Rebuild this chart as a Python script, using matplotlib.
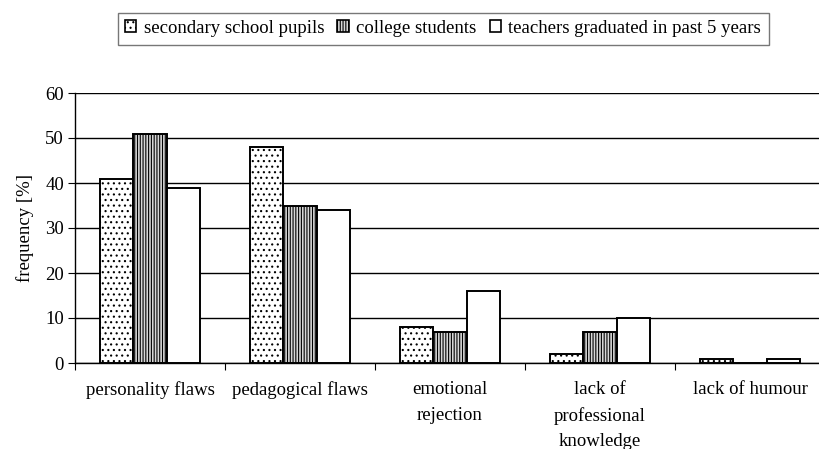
import matplotlib

matplotlib.use("Agg")
import matplotlib.pyplot as plt  # noqa: E402
import numpy as np  # noqa: E402
from matplotlib.patches import Patch  # noqa: E402

plt.rcParams["font.family"] = ["Liberation Serif", "DejaVu Serif"]
plt.rcParams["hatch.linewidth"] = 0.8

categories = [
    "personality flaws",
    "pedagogical flaws",
    "emotional\nrejection",
    "lack of\nprofessional\nknowledge",
    "lack of humour",
]
series_names = [
    "secondary school pupils",
    "college students",
    "teachers graduated in past 5 years",
]
pupils = [41, 48, 8, 2, 1]
students = [51, 35, 7, 7, 0]
teachers = [39, 34, 16, 10, 1]
y_ticks = [0, 10, 20, 30, 40, 50, 60]

W, H = 819, 449
FS = 13.5
fig = plt.figure(figsize=(W / 100, H / 100), dpi=100)
# plot area: x 75..825 px (cropped at the right), y 93..363 px
ax = fig.add_axes([75 / W, (H - 363) / H, 750 / W, 270 / H])

x = np.arange(len(categories))
bw = 2 / 9
styles = [
    dict(facecolor="white", hatch="...", edgecolor="black"),
    dict(facecolor="#d8d8d8", hatch="||||||", edgecolor="black"),
    dict(facecolor="white", hatch=None, edgecolor="black"),
]
for i, (vals, st) in enumerate(zip([pupils, students, teachers], styles)):
    ax.bar(x + (i - 1) * bw, vals, width=bw, linewidth=1.4, zorder=3, **st)

ax.set_xlim(-0.5, len(categories) - 0.5)
ax.set_ylim(0, 60)
ax.set_yticks(y_ticks)
ax.yaxis.grid(True, color="black", linewidth=1.0, zorder=0)
ax.set_axisbelow(True)
for s in ["top", "right"]:
    ax.spines[s].set_visible(False)
ax.spines["left"].set_linewidth(1.0)
ax.spines["bottom"].set_linewidth(1.0)

ax.set_xticks(np.arange(len(categories) + 1) - 0.5)
ax.set_xticklabels([])
ax.set_xticks(x, minor=True)
ax.set_xticklabels(categories, minor=True, fontsize=FS, linespacing=1.65)
ax.tick_params(axis="x", which="minor", length=0, pad=13)
ax.tick_params(axis="x", which="major", length=5, direction="out")
ax.tick_params(axis="y", length=5, direction="out", labelsize=FS, pad=3)
ax.set_ylabel("frequency [%]", fontsize=FS, labelpad=8)

handles = [
    Patch(linewidth=1.2, **styles[0]),
    Patch(linewidth=1.2, **styles[1]),
    Patch(linewidth=1.2, **styles[2]),
]
leg = fig.legend(
    handles, series_names, loc="center", bbox_to_anchor=(443 / W, (H - 28.5) / H),
    ncol=3, fontsize=FS, frameon=True, fancybox=False, handlelength=0.6,
    handleheight=0.6, handletextpad=0.4, columnspacing=0.7, borderpad=0.4,
    borderaxespad=0,
)
leg.get_frame().set_edgecolor("#555555")
leg.get_frame().set_linewidth(1.0)

fig.savefig("out.png", dpi=100)
